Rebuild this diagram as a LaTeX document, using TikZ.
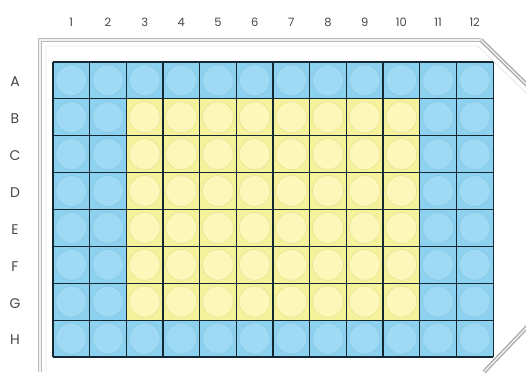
\documentclass[tikz,border=0pt]{standalone}
\usepackage{fontspec}
\setmainfont{Poppins}
\usepackage{xcolor}

\definecolor{wellblue}{RGB}{140,210,240}
\definecolor{wellbluelt}{RGB}{158,218,243}
\definecolor{wellyellow}{RGB}{246,242,155}
\definecolor{wellyellowlt}{RGB}{251,248,185}
\definecolor{gridline}{RGB}{20,40,50}
\definecolor{labelgray}{RGB}{70,70,70}

\tikzset{
  collabel/.style={font=\fontsize{11.5}{11.5}\selectfont, text=labelgray, inner sep=0pt},
  rowlabel/.style={font=\fontsize{14}{14}\selectfont, text=labelgray, inner sep=0pt},
  wellrim/.style={line width=0.8pt},
  plateedge/.style={gray!55, line width=1pt, double=gray!10, double distance=1.3pt},
}

\begin{document}
\begin{tikzpicture}[x=1pt,y=-1pt]
\useasboundingbox (0,0) rectangle (526,374);
% plate outline
\draw[plateedge] (40,372) -- (40,40) -- (481,40);
\draw[plateedge, gray!65, line width=1.4pt] (481,40) -- (528,86);
\draw[plateedge, gray!65, line width=1.4pt] (528,326) -- (484,372);
\draw[gray!20, line width=0.8pt] (46,372) -- (46,46) -- (478,46) -- (528,95);
% wells
\foreach \c in {1,...,12} {
  \foreach \r in {1,...,8} {
    \pgfmathsetmacro{\xa}{53+(\c-1)*36.67}
    \pgfmathsetmacro{\ya}{62+(\r-1)*36.87}
    \ifnum\c>2 \ifnum\c<11 \ifnum\r>1 \ifnum\r<8
      \def\cellfill{wellyellow}\def\holefill{wellyellowlt}
    \else\def\cellfill{wellblue}\def\holefill{wellbluelt}\fi
    \else\def\cellfill{wellblue}\def\holefill{wellbluelt}\fi
    \else\def\cellfill{wellblue}\def\holefill{wellbluelt}\fi
    \else\def\cellfill{wellblue}\def\holefill{wellbluelt}\fi
    \fill[\cellfill] (\xa,\ya) rectangle ++(36.67,36.87);
    \filldraw[fill=\holefill, draw=\cellfill!90!gray, wellrim] (\xa+18.3,\ya+18.4) circle (15.5);
  }
}
% grid
\foreach \c in {0,...,12}
  \draw[gridline, line width=1.1pt] (53+\c*36.67,62) -- (53+\c*36.67,357);
\foreach \r in {0,...,8}
  \draw[gridline, line width=1.1pt] (53,62+\r*36.87) -- (493,62+\r*36.87);
% labels
\foreach \c in {1,...,12}
  \node[collabel] (col\c) at (71.3+\c*36.67-36.67,22) {\c};
\foreach \l [count=\r] in {A,B,C,D,E,F,G,H}
  \node[rowlabel] (row\l) at (15,82+\r*36.87-36.87) {\l};
\end{tikzpicture}
\end{document}
